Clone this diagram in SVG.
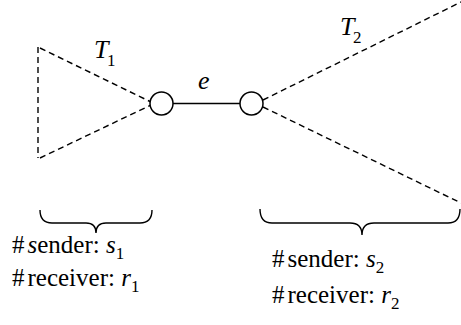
<svg xmlns="http://www.w3.org/2000/svg" width="461" height="325" viewBox="0 0 461 325">
  <style>
    .dash { fill: none; stroke: #000; stroke-width: 1.4; stroke-dasharray: 6 4; }
    .solid { fill: none; stroke: #000; stroke-width: 1.5; }
    .node { fill: #fff; stroke: #000; stroke-width: 1.5; }
    .brace { fill: none; stroke: #000; stroke-width: 1.4; }
    text { font-family: 'Liberation Serif', 'Times New Roman', serif; fill: #000; }
    .it { font-style: italic; }
  </style>
  <rect width="461" height="325" fill="#fff"/>

  <!-- subtree T1 (dashed triangle) -->
  <g id="tree-T1">
    <path class="dash" d="M38,47 L38,158 M40,48 L151,102 M40,158 L151,105"/>
    <text class="it" x="94" y="58" font-size="26">T</text>
    <text x="107" y="66" font-size="17">1</text>
  </g>

  <!-- subtree T2 (dashed triangle, clipped at the right edge) -->
  <g id="tree-T2">
    <path class="dash" d="M263,100 L461,2 M263,107 L461,203"/>
    <text class="it" x="340" y="35" font-size="26">T</text>
    <text x="353" y="43" font-size="17">2</text>
  </g>

  <!-- connecting edge e -->
  <g id="connectors">
    <line class="solid" x1="173" y1="103.5" x2="240" y2="103.5"/>
    <text class="it" x="198" y="89" font-size="26">e</text>
  </g>

  <g id="node-u">
    <circle class="node" cx="161.5" cy="103.5" r="11.5"/>
  </g>
  <g id="node-v">
    <circle class="node" cx="251.5" cy="103.5" r="11.5"/>
  </g>

  <!-- left brace and counts -->
  <g id="label-T1">
    <path class="brace" d="M40,210 Q40,223 52,223 L86,223 Q96,223 96,233 Q96,223 106,223 L140,223 Q152,223 152,210"/>
    <text x="12" y="253" font-size="25">#<tspan class="it" dx="3">s</tspan>ender: <tspan class="it">s</tspan><tspan font-size="17" dy="6">1</tspan></text>
    <text x="12" y="286" font-size="25">#<tspan dx="3">receiver: </tspan><tspan class="it">r</tspan><tspan font-size="17" dy="6">1</tspan></text>
  </g>

  <!-- right brace and counts -->
  <g id="label-T2">
    <path class="brace" d="M260,209 Q260,223 272,223 L350,223 Q362,223 362,235 Q362,223 374,223 L448,223 Q460,223 460,209"/>
    <text x="272" y="267" font-size="25">#<tspan dx="3">sender: </tspan><tspan class="it">s</tspan><tspan font-size="17" dy="6">2</tspan></text>
    <text x="272" y="303" font-size="25">#<tspan dx="3">receiver: </tspan><tspan class="it">r</tspan><tspan font-size="17" dy="6">2</tspan></text>
  </g>
</svg>
